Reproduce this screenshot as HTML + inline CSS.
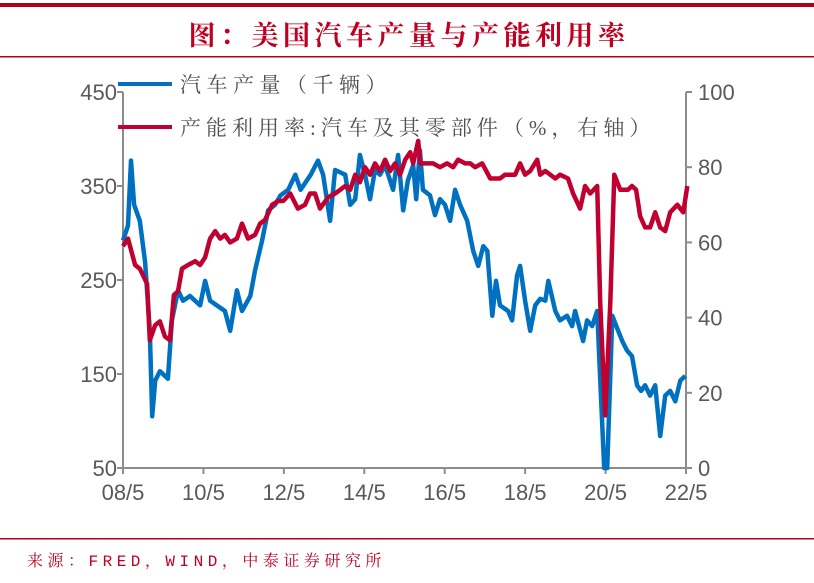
<!DOCTYPE html>
<html><head><meta charset="utf-8">
<style>
body{margin:0;background:#fff;width:814px;height:578px;overflow:hidden;font-family:"Liberation Sans","Noto Sans CJK SC",sans-serif;}
.serif{font-family:"Liberation Serif","Noto Serif CJK SC",serif;}
.mono{font-family:"Liberation Mono","Noto Serif CJK SC",monospace;}
.sans{font-family:"Liberation Sans","Noto Sans CJK SC",sans-serif;}
</style></head>
<body>
<svg id="chart" width="814" height="578" xmlns="http://www.w3.org/2000/svg">
<rect x="0" y="3" width="814" height="4" fill="#b0001e"/>
<text class="serif" x="409" y="45" text-anchor="middle" font-size="27" letter-spacing="4.5" font-weight="bold" fill="#c00020">图：美国汽车产量与产能利用率</text>
<rect x="0" y="56" width="814" height="1.5" fill="#b0001e"/>
<rect x="0" y="538" width="814" height="1.5" fill="#b0001e"/>
<text class="mono" x="27" y="566" font-size="16" letter-spacing="4.5" fill="#c00020">来源：FRED，WIND，中泰证券研究所</text>
<g id="axes"></g>
<g id="series"></g>
<g>
<line x1="118" y1="84" x2="172" y2="84" stroke="#0070c0" stroke-width="4"/>
<text class="serif" x="180" y="92" font-size="21" letter-spacing="5.5" fill="#505050">汽车产量（千辆）</text>
<line x1="118" y1="127" x2="172" y2="127" stroke="#c0002f" stroke-width="4"/>
<text class="serif" x="180" y="135" font-size="21" letter-spacing="5" fill="#505050">产能利用率:汽车及其零部件（%，右轴）</text>
</g>
</svg>
<script>
const xTickLabels=["08/5","10/5","12/5","14/5","16/5","18/5","20/5","22/5"];
const leftTicks=[50,150,250,350,450];
const rightTicks=[0,20,40,60,80,100];
const prodMonths=[0,1.5,2.4,3.3,5,6.6,8,8.7,9.6,11,13.4,14.6,16.4,17.9,20,23,24.5,26,28,30.4,32,34,35.5,38,39.4,41.5,43.3,45.4,47,49.3,51.4,53,56,58.2,59.7,61.8,63.3,66.3,67.8,69.3,70.7,72.2,73.7,75.2,76.7,78.2,80.6,82.1,83.6,85,86.6,87.5,88.6,89.5,91.6,93.1,94.6,96.1,97.6,99.1,100.6,102.7,104.5,106,107.5,108.7,110.2,111.3,112.5,114.9,116.1,117.6,118.5,120,121.5,123,124.5,126,126.9,129,130.4,132.5,134,134.9,137.3,138.5,140,141.5,142.7,143.6,144.5,146,147.2,149,150.4,151.9,153.4,154.6,155.8,157.3,158.8,160.3,161.8,163.3,164.8,166.3,167.8];
const prodValues=[292,308,377,330,313,269,196,105,143,153,145,207,239,228,233,223,249,228,223,217,196,239,217,233,260,292,324,330,340,346,362,346,362,377,362,313,367,362,330,336,383,362,336,367,362,372,346,383,324,356,372,336,388,346,340,319,336,330,313,346,330,313,281,265,286,281,212,249,223,217,207,255,265,228,196,223,230,228,249,217,207,212,201,217,185,207,201,217,121,50,50,212,201,185,175,169,138,132,138,127,138,84,127,132,121,143,148];
const utilMonths=[0,1.5,3.6,5,7.2,8,9.6,11,12.5,14,15.2,16.4,17.6,19.4,21.5,23,24.5,26,27.5,29,30.4,32,34,35.5,37.3,39.4,40.9,42.4,44.5,46.3,47.8,49.9,52.2,54.3,55.8,57.3,58.8,61.2,63.3,64.8,66.3,67.8,69.3,70.7,72.2,73.7,75.2,76.7,78.2,79.7,81.2,82.7,84.2,85.7,86.6,88.1,88.7,90.1,92.5,94.6,96.7,98.5,100,102.1,103.6,105.1,107.2,109.6,112.5,114,117,118.5,120,121.5,123.6,124.5,126,127.5,129,130.4,132.8,134.3,136.4,137.9,139.4,141.5,142.4,143.9,145.4,146.6,148.4,150.7,151.9,153.1,154.3,155.8,157.3,158.8,160.3,161.8,163.3,165.4,167.2,168.4];
const utilValues=[59,61,54,53,49,34,38,39,35,34,46,47,53,54,55,54,56,61,63,61,62,60,61,65,61,62,65,66,70,71,71,73,69,70,73,73,69,72,73,74,75,74,78,76,80,78,81,79,82,79,81,78,82,84,81,87,81,81,81,80,81,80,82,81,81,80,81,77,77,78,78,81,78,79,82,78,79,78,77,78,77,73,69,75,73,75,44,14,44,78,74,74,75,74,67,64,64,68,64,63,68,70,68,75];

const X0=123,X1=686,Y0=468,Y1=92;
const xScale=m=>X0+(m/168)*(X1-X0);
const yLeft=v=>Y0-(v-50)/400*(Y0-Y1);
const yRight=v=>Y0-v/100*(Y0-Y1);
const NS="http://www.w3.org/2000/svg";
const axes=document.getElementById('axes');
const series=document.getElementById('series');
function mk(tag,attrs,parent){const e=document.createElementNS(NS,tag);for(const k in attrs)e.setAttribute(k,attrs[k]);parent.appendChild(e);return e;}
const gray="#8c8c8c",lab="#595959";
let e;
e=mk('line',{x1:X0,y1:Y1,x2:X0,y2:Y0,stroke:gray,'stroke-width':2},axes);


e=mk('line',{x1:X1,y1:Y1,x2:X1,y2:Y0,stroke:gray,'stroke-width':2},axes);


e=mk('line',{x1:X0,y1:Y0,x2:X1,y2:Y0,stroke:gray,'stroke-width':2},axes);


leftTicks.forEach(v=>{const y=yLeft(v);
 mk('line',{x1:X0-6,y1:y,x2:X0,y2:y,stroke:gray,'stroke-width':2},axes);
 const t=mk('text',{class:'sans',x:X0-6,y:y+8,'text-anchor':'end','font-size':22,fill:lab},axes);t.textContent=v;
 
 });
rightTicks.forEach(v=>{const y=yRight(v);
 mk('line',{x1:X1,y1:y,x2:X1+6,y2:y,stroke:gray,'stroke-width':2},axes);
 const t=mk('text',{class:'sans',x:X1+12,y:y+8,'font-size':22,fill:lab},axes);t.textContent=v;
 
 });
xTickLabels.forEach((s,i)=>{const x=xScale(i*24);
 mk('line',{x1:x,y1:Y0,x2:x,y2:Y0+6,stroke:gray,'stroke-width':2},axes);
 const t=mk('text',{class:'sans',x:x,y:Y0+32,'text-anchor':'middle','font-size':22,fill:lab},axes);t.textContent=s;
 
 });
function line(ms,vs,ys){return ms.map((m,i)=>(i?'L':'M')+xScale(m).toFixed(1)+','+ys(vs[i]).toFixed(1)).join('');}
e=mk('path',{d:line(prodMonths,prodValues,yLeft),fill:'none',stroke:'#0070c0','stroke-width':4.5,'stroke-linejoin':'round'},series);


e=mk('path',{d:line(utilMonths,utilValues,yRight),fill:'none',stroke:'#c0002f','stroke-width':4.5,'stroke-linejoin':'round'},series);


</script>
</body></html>
